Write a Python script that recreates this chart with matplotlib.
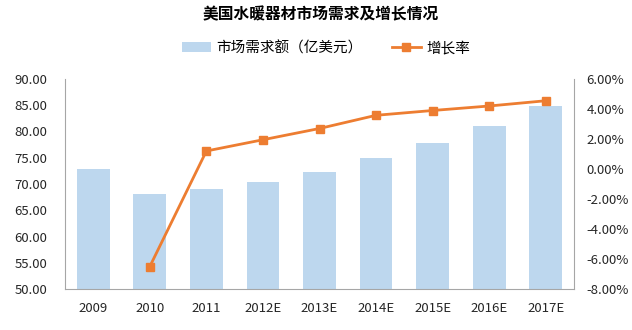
import matplotlib.pyplot as plt
import numpy as np
from matplotlib.ticker import FuncFormatter

plt.rcParams['font.family'] = ['Noto Sans CJK SC', 'DejaVu Sans']

years = ['2009', '2010', '2011', '2012E', '2013E', '2014E', '2015E', '2016E', '2017E']
demand = [72.9, 68.1, 69.0, 70.4, 72.2, 74.9, 77.8, 81.0, 84.9]
growth = [None, -6.5, 1.2, 1.95, 2.7, 3.58, 3.9, 4.2, 4.55]

x = np.arange(len(years))

fig = plt.figure(figsize=(6.32, 3.30), dpi=100)
ax = fig.add_axes([65 / 632, 41 / 330, 509 / 632, 210 / 330])
ax2 = ax.twinx()

bars = ax.bar(x, demand, width=0.58, color='#BDD7EE', zorder=1)
gx = [i for i, g in zip(x, growth) if g is not None]
gy = [g for g in growth if g is not None]
line, = ax2.plot(gx, gy, color='#ED7D31', lw=2, marker='s', ms=6)

ax.set_xlim(-0.5, len(years) - 0.5)
ax.set_ylim(50, 90)
ax.set_yticks(np.arange(50, 90.1, 5))
ax.yaxis.set_major_formatter(FuncFormatter(lambda v, p: f'{v:.2f}'))
ax2.set_ylim(-8, 6)
ax2.set_yticks(np.arange(-8, 6.1, 2))
ax2.yaxis.set_major_formatter(FuncFormatter(lambda v, p: f'{v:.2f}%'))

ax.set_xticks(x)
ax.set_xticklabels(years)

for a in (ax, ax2):
    a.spines['top'].set_visible(False)
    for s in ('left', 'right', 'bottom'):
        a.spines[s].set_color('#A6A6A6')
    a.tick_params(length=0, labelsize=9.5, colors='#262626')
ax.spines['right'].set_visible(False)
ax2.spines['left'].set_visible(False)
ax2.spines['bottom'].set_visible(False)
ax.tick_params(axis='y', pad=13)
ax2.tick_params(axis='y', pad=9)
ax.tick_params(axis='x', pad=9)

fig.text(321 / 632, 1 - 14 / 330, '美国水暖器材市场需求及增长情况', ha='center', va='center',
         fontsize=11.3, fontweight='bold')
fig.legend([bars, line], ['市场需求额（亿美元）', '增长率'], loc='center',
           bbox_to_anchor=(326 / 632, 1 - 48 / 330), ncol=2, frameon=False, fontsize=10.5,
           handlelength=2.0, columnspacing=2.0, handletextpad=0.35)

fig.savefig('out.png', dpi=100)
